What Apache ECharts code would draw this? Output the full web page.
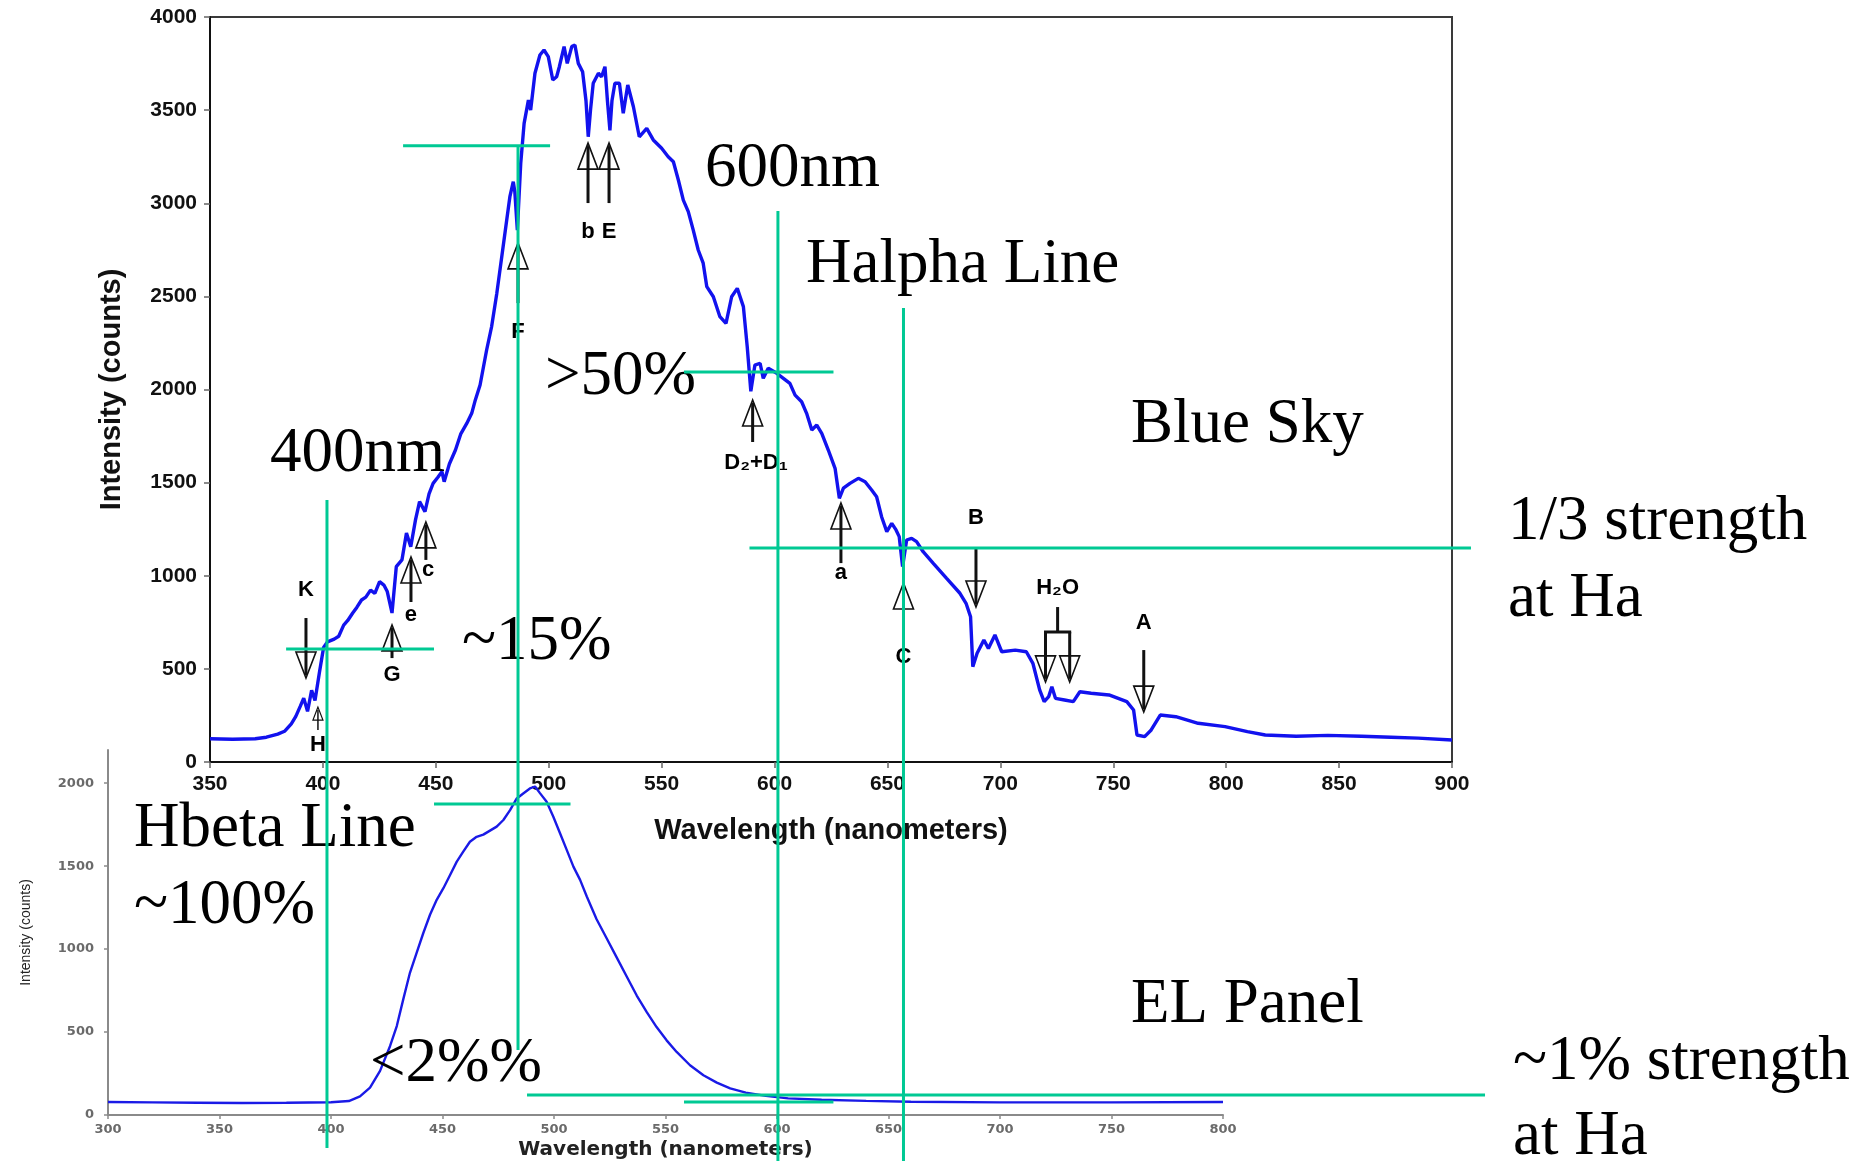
<!DOCTYPE html>
<html>
<head>
<meta charset="utf-8">
<title>Blue Sky vs EL Panel spectra</title>
<script src="https://cdn.jsdelivr.net/npm/echarts@6/dist/echarts.min.js"></script>
<style>
  html, body { margin: 0; padding: 0; background: #ffffff; }
  #chart { width: 1867px; height: 1161px; }
</style>
</head>
<body>
<div id="chart"></div>
<script>
// ---- Blue sky spectrum: wavelength (nm) and intensity (counts) ----
const skyNm = [350, 360, 370, 375, 380, 383, 386, 388, 390, 391.5, 393.2, 395, 396.5, 398.4, 400.3, 402, 405, 407,
  409.2, 411, 413.2, 415, 417.1, 419, 421.1, 423, 425.1, 427, 428.5, 430.6, 432.5, 435, 437, 438.9, 441, 442.8,
  445.2, 447, 448.8, 451, 452.7, 453.7, 456, 458.7, 461, 463.7, 465.9, 467.5, 469.6, 472.5, 474.7, 477, 479.2,
  481.4, 482.8, 484.3, 485, 486.1, 487.6, 489.1, 491, 492, 493.9, 496.1, 497.9, 499.8, 501.8, 503.5, 504.7,
  506.8, 508.2, 510.2, 511.6, 513.1, 515, 516.5, 517.5, 518.5, 519.7, 522, 523.4, 524.9, 526, 527.1, 528, 529.3,
  531.3, 533, 535, 537.5, 540.1, 543.4, 546.3, 550, 552.9, 555.2, 557.4, 559.6, 561.8, 564, 566.2, 568.4, 570,
  572.9, 575.8, 578.5, 581, 583.5, 586.2, 587.9, 589.5, 591.3, 593.6, 595, 597.2, 601, 603.9, 606.8, 609.1, 612,
  614.2, 616.5, 618.7, 620.9, 623.8, 626.8, 628.7, 630.5, 633.4, 637.1, 640.1, 643, 645.2, 647.4, 649.7, 651.9,
  653.8, 655.2, 656.7, 658.5, 660.7, 662.9, 665.8, 670.3, 676.2, 682.1, 684.8, 686.8, 687.8, 689.7, 692.7, 694.7,
  697.6, 700.6, 706.6, 711.5, 714.4, 717.4, 719.4, 721.4, 722.8, 724.4, 728.4, 732.3, 735.2, 740.2, 748.1, 756,
  759, 760.5, 763.9, 766.8, 770.8, 777.7, 787.6, 799.5, 809.4, 817.3, 831, 845, 860, 873, 885, 900];
const skyCounts = [125, 122, 125, 133, 150, 165, 205, 245, 300, 343, 272, 385, 330, 477, 615, 645, 660, 675,
  735, 760, 800, 830, 870, 885, 923, 905, 968, 950, 915, 800, 1049, 1085, 1229, 1156, 1300, 1398,
  1344, 1440, 1496, 1530, 1559, 1505, 1600, 1675, 1760, 1818, 1872, 1944, 2024, 2212, 2337, 2516, 2713,
  2910, 3035, 3116, 3060, 2856, 3214, 3429, 3554, 3500, 3698, 3796, 3823, 3787, 3662, 3679, 3733,
  3841, 3751, 3841, 3850, 3751, 3706, 3550, 3357, 3500, 3644, 3698, 3679, 3733, 3550, 3391, 3550, 3644,
  3644, 3483, 3635, 3518, 3357, 3402, 3340, 3295, 3250, 3223, 3125, 3017, 2955, 2856, 2749, 2678, 2552,
  2498, 2391, 2355, 2498, 2543, 2445, 2230, 1990, 2131, 2141, 2060, 2114, 2087, 2060, 2033, 1970, 1934,
  1872, 1783, 1809, 1765, 1675, 1577, 1416, 1470, 1496, 1523, 1505, 1460, 1424, 1317, 1237, 1281,
  1246, 1210, 1049, 1192, 1201, 1183, 1129, 1067, 986, 906, 852, 780, 512, 584, 655, 610,
  682, 592, 601, 592, 530, 387, 324, 351, 404, 342, 333, 324, 377, 369, 360, 324,
  279, 145, 136, 172, 252, 243, 208, 190, 163, 145, 138, 143, 138, 133, 128, 118];

// ---- EL panel spectrum ----
const elNm = [300, 320, 340, 360, 380, 400, 408, 413, 417.5, 422, 426.5, 429.5, 432.4, 435.4, 438.4, 441.4,
  444.4, 447.4, 450.4, 453.4, 456.4, 459.3, 462.3, 465.3, 468.3, 471.3, 474.3, 477.3, 480.3, 483.3, 486.2,
  489.2, 491.5, 493.7, 496.7, 499.7, 502.7, 505.7, 508.7, 511.7, 514.7, 519.1, 523.6, 528.1, 532.6, 537.1,
  541.6, 546, 550.5, 555, 561, 567, 573, 579, 586, 595, 605, 620, 640, 660, 700, 750, 800];
const elCounts = [78, 76, 74, 72, 74, 77, 84, 112, 165, 266, 416, 536, 697, 857, 977, 1097,
  1207, 1297, 1367, 1447, 1527, 1587, 1647, 1677, 1690, 1714, 1738, 1778, 1838, 1908, 1938,
  1968, 1980, 1940, 1888, 1798, 1698, 1598, 1497, 1417, 1317, 1180, 1065, 950, 835, 720,
  620, 530, 450, 380, 300, 240, 195, 160, 135, 115, 100, 92, 85, 80, 76, 76, 78];
const elYTicks = [0, 500, 1000, 1500, 2000];

// ---- Fraunhofer line markers on the sky spectrum ----
const lineNames = ['K', 'H', 'G', 'e', 'c', 'F', 'b', 'E', 'D\u2082+D\u2081', 'a', 'C', 'B', 'A'];
const lineNm = [392.5, 397.8, 430.6, 439, 445.6, 486.4, 517.4, 526.7, 590.3, 629.4, 657.1, 689.2, 763.5];
const labelNm = [392.5, 397.8, 430.6, 439, 446.6, 486.4, 517.4, 526.7, 591.8, 629.4, 657.1, 689.2, 763.5];
const arrowTail = [773, 172, 558, 859, 1085, 2464, 3001, 3001, 1718, 1068, 617, 1154, 601];
const arrowTip = [451, 295, 736, 1101, 1289, 2787, 3323, 3323, 1944, 1391, 961, 832, 268];
const labelCounts = [923, 91, 467, 789, 1031, 2309, 2846, 2846, 1605, 1015, 564, 1310, 746];
// water band: two arrows joined by a bracket
const waterNm = [720, 730.7];
const waterStem = [832, 698];
const waterTip = 430;
const waterLabel = 934;

// ---- Guide lines (sky chart units) ----
const guideVNm = [401.8, 486.4, 601.5, 657.1];
const guideVTop = [1407, 3307, 2958, 2438];
const guideVBottom = [-2072, -1546, -2142, -2142];
const guideHCounts = [3309, 2094, 1149, 607];
const guideHFrom = [435.5, 559.9, 588.9, 383.7];
const guideHTo = [500.6, 626.1, 908.4, 449.2];
// guide lines in EL chart units
const elGuideCounts = [1874, 120, 78];
const elGuideFrom = [446.2, 487.9, 558.3];
const elGuideTo = [507.4, 917.5, 625.3];

const SANS = "'Liberation Sans', Arial, Helvetica, sans-serif";
const SERIF = "'Liberation Serif', 'Times New Roman', Times, serif";
const WIDE = "'DejaVu Sans', Verdana, sans-serif";
const GREEN = '#00c994';
const plain = v => String(v);

const zip = (xs, ys) => xs.map((x, i) => [x, ys[i]]);

const chart = echarts.init(document.getElementById('chart'), null, { renderer: 'canvas' });

chart.setOption({
  animation: false,
  backgroundColor: '#ffffff',
  grid: [
    { left: 210, top: 17, width: 1242, height: 745, show: true, borderColor: '#3a3a3a', borderWidth: 2, backgroundColor: 'transparent' },
    { left: 108, top: 750, width: 1115, height: 366 }
  ],
  xAxis: [
    {
      type: 'value', gridIndex: 0, min: 350, max: 900, interval: 50,
      axisLine: { show: true, lineStyle: { color: '#111', width: 2 } },
      axisTick: { show: true, length: 6, lineStyle: { color: '#666', width: 1.5 } },
      axisLabel: { fontFamily: SANS, fontWeight: 'bold', fontSize: 21, color: '#111', margin: 12, formatter: plain },
      splitLine: { show: false },
      name: 'Wavelength (nanometers)', nameLocation: 'middle', nameGap: 54,
      nameTextStyle: { fontFamily: SANS, fontWeight: 'bold', fontSize: 29, color: '#111' }
    },
    {
      type: 'value', gridIndex: 1, min: 300, max: 800, interval: 50,
      axisLine: { show: true, lineStyle: { color: '#8a8a8a', width: 2 } },
      axisTick: { show: true, length: 4, lineStyle: { color: '#8a8a8a', width: 1.5 } },
      axisLabel: { fontFamily: WIDE, fontWeight: 'bold', fontSize: 13, color: '#6a6a6a', margin: 8, formatter: plain },
      splitLine: { show: false },
      name: 'Wavelength (nanometers)', nameLocation: 'middle', nameGap: 25,
      nameTextStyle: { fontFamily: WIDE, fontWeight: 'bold', fontSize: 20, color: '#222' }
    }
  ],
  yAxis: [
    {
      type: 'value', gridIndex: 0, min: 0, max: 4000, interval: 500,
      axisLine: { show: true, lineStyle: { color: '#111', width: 2 } },
      axisTick: { show: true, length: 6, lineStyle: { color: '#666', width: 1.5 } },
      axisLabel: { fontFamily: SANS, fontWeight: 'bold', fontSize: 21, color: '#111', margin: 13, formatter: plain },
      splitLine: { show: false },
      name: 'Intensity (counts)', nameLocation: 'middle', nameGap: 84, nameRotate: 90,
      nameTextStyle: { fontFamily: SANS, fontWeight: 'bold', fontSize: 29, color: '#111' }
    },
    {
      type: 'value', gridIndex: 1, min: 0, max: 2200,
      axisLine: { show: true, lineStyle: { color: '#8a8a8a', width: 2 } },
      axisTick: { show: true, length: 4, customValues: elYTicks, lineStyle: { color: '#8a8a8a', width: 1.5 } },
      axisLabel: { fontFamily: WIDE, fontWeight: 'bold', fontSize: 13, color: '#6a6a6a', margin: 14, customValues: elYTicks, formatter: plain },
      splitLine: { show: false },
      name: 'Intensity (counts)', nameLocation: 'middle', nameGap: 75, nameRotate: 90,
      nameTextStyle: { fontFamily: SANS, fontSize: 14, color: '#222' }
    }
  ],
  series: [
    {
      name: 'Blue Sky', type: 'line', xAxisIndex: 0, yAxisIndex: 0,
      data: zip(skyNm, skyCounts), showSymbol: false, smooth: false,
      lineStyle: { color: '#1212ee', width: 3.4 }, z: 5
    },
    {
      name: 'EL Panel', type: 'line', xAxisIndex: 1, yAxisIndex: 1,
      data: zip(elNm, elCounts), showSymbol: false, smooth: false,
      lineStyle: { color: '#1a1ae6', width: 2.4 }, z: 5
    }
  ]
});

// ---- overlay: markers, notes and guide lines ----
const toPx = (g, x, y) => chart.convertToPixel({ gridIndex: g }, [x, y]);
const graphics = [];

function addArrow(nm, tail, tip, small) {
  const p0 = toPx(0, nm, tail);
  const p1 = toPx(0, nm, tip);
  const x = p0[0];
  const dir = Math.sign(p1[1] - p0[1]);
  const len = small ? 13 : 26;
  const half = small ? 5 : 10;
  graphics.push({
    type: 'polygon', z: 40, silent: true,
    shape: { points: [[x, p1[1]], [x - half, p1[1] - dir * len], [x + half, p1[1] - dir * len]] },
    style: { fill: '#ffffff', stroke: '#111', lineWidth: small ? 1.2 : 1.6 }
  });
  graphics.push({
    type: 'line', z: 41, silent: true,
    shape: { x1: x, y1: p0[1], x2: x, y2: p1[1] - dir * 3 },
    style: { stroke: '#111', lineWidth: small ? 1.5 : 3 }
  });
}

function addLabel(text, px, font, z) {
  graphics.push({
    type: 'text', z: z, silent: true, x: px[0], y: px[1],
    style: { text: text, font: font, fill: '#000', align: 'center', verticalAlign: 'middle',
      textAlign: 'center', textVerticalAlign: 'middle' }
  });
}

lineNames.forEach((name, i) => {
  const small = Math.abs(arrowTip[i] - arrowTail[i]) < 150;
  addArrow(lineNm[i], arrowTail[i], arrowTip[i], small);
  addLabel(name, toPx(0, labelNm[i], labelCounts[i]), 'bold 22px ' + SANS, 42);
});

// water band bracket
(function () {
  const mid = (waterNm[0] + waterNm[1]) / 2;
  const s0 = toPx(0, mid, waterStem[0]);
  const s1 = toPx(0, mid, waterStem[1]);
  const l = toPx(0, waterNm[0], waterStem[1]);
  const r = toPx(0, waterNm[1], waterStem[1]);
  graphics.push({ type: 'line', z: 41, silent: true, shape: { x1: s0[0], y1: s0[1], x2: s1[0], y2: s1[1] }, style: { stroke: '#111', lineWidth: 3 } });
  graphics.push({ type: 'line', z: 41, silent: true, shape: { x1: l[0] - 1.5, y1: l[1], x2: r[0] + 1.5, y2: r[1] }, style: { stroke: '#111', lineWidth: 3 } });
  waterNm.forEach(nm => addArrow(nm, waterStem[1], waterTip, false));
  addLabel('H\u2082O', toPx(0, mid, waterLabel), 'bold 22px ' + SANS, 42);
})();

// notes
const noteFont = '63px ' + SERIF;
[
  ['600nm', 705, 187], ['Halpha Line', 806, 283], ['Blue Sky', 1131, 443],
  ['400nm', 270, 472], ['>50%', 545, 395], ['~15%', 462, 660],
  ['1/3 strength', 1508, 540], ['at Ha', 1508, 617],
  ['Hbeta Line', 134, 847], ['~100%', 134, 924], ['EL Panel', 1131, 1023],
  ['<2%%', 370, 1082], ['~1% strength', 1513, 1080], ['at Ha', 1513, 1155]
].forEach(([t, x, baseline]) => {
  graphics.push({
    type: 'text', z: 50, silent: true, x: x, y: baseline - 18,
    style: { text: t, font: noteFont, fill: '#000', align: 'left', verticalAlign: 'middle',
      textAlign: 'left', textVerticalAlign: 'middle' }
  });
});

// guide lines
guideVNm.forEach((nm, i) => {
  const a = toPx(0, nm, guideVTop[i]);
  const b = toPx(0, nm, guideVBottom[i]);
  graphics.push({ type: 'line', z: 60, silent: true, shape: { x1: a[0], y1: a[1], x2: b[0], y2: b[1] }, style: { stroke: GREEN, lineWidth: 3 } });
});
guideHCounts.forEach((c, i) => {
  const a = toPx(0, guideHFrom[i], c);
  const b = toPx(0, guideHTo[i], c);
  graphics.push({ type: 'line', z: 60, silent: true, shape: { x1: a[0], y1: a[1], x2: b[0], y2: b[1] }, style: { stroke: GREEN, lineWidth: 3 } });
});
elGuideCounts.forEach((c, i) => {
  const a = toPx(1, elGuideFrom[i], c);
  const b = toPx(1, elGuideTo[i], c);
  graphics.push({ type: 'line', z: 60, silent: true, shape: { x1: a[0], y1: a[1], x2: b[0], y2: b[1] }, style: { stroke: GREEN, lineWidth: 3 } });
});

chart.setOption({ graphic: { elements: graphics } });
</script>
</body>
</html>
